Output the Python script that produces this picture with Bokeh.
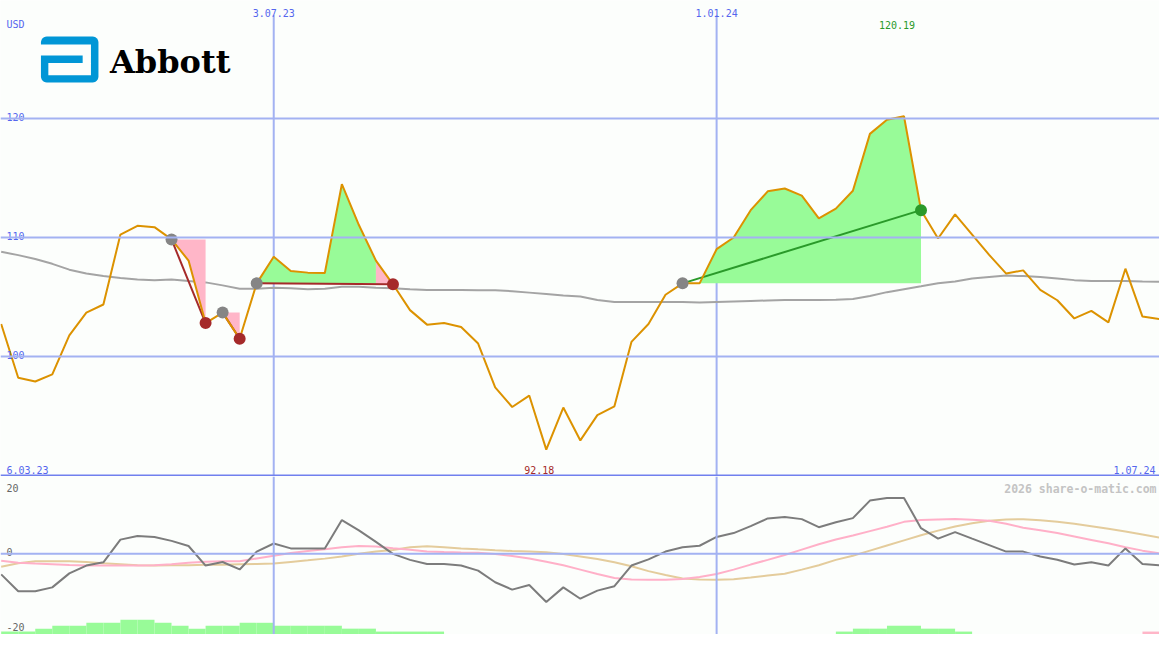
from bokeh.plotting import figure
from bokeh.models import Span, Range1d
from bokeh.layouts import column
from bokeh.core.properties import value
from bokeh.embed import file_html
from bokeh.resources import INLINE

# ---------------- data ----------------
weeks = list(range(1, 70))  # week index, week 0 = 6.03.23
price = [102.73, 98.22, 97.9, 98.5, 101.78, 103.69, 104.37, 110.25, 110.98, 110.87,
         109.84, 108.06, 102.81, 103.69, 101.5, 106.15, 108.39, 107.19, 107.05, 107.02,
         114.48, 111.05, 108.06, 106.07, 103.9, 102.68, 102.81, 102.48, 101.09, 97.4,
         95.76, 96.72, 92.18, 95.71, 92.95, 95.08, 95.82, 101.23, 102.73, 105.19,
         106.15, 106.15, 109.02, 110.0, 112.3, 113.88, 114.12, 113.52, 111.61, 112.43,
         113.93, 118.71, 119.9, 120.19, 112.3, 109.92, 111.94, 110.25, 108.54, 106.97,
         107.24, 105.6, 104.73, 103.2, 103.83, 102.87, 107.38, 103.36, 103.14]
ma = [108.8, 108.52, 108.2, 107.79, 107.3, 106.97, 106.76, 106.6, 106.48, 106.42,
      106.48, 106.35, 106.23, 105.98, 105.7, 105.7, 105.78, 105.74, 105.66, 105.7,
      105.86, 105.86, 105.78, 105.74, 105.66, 105.6, 105.6, 105.6, 105.57, 105.57,
      105.49, 105.37, 105.25, 105.12, 105.04, 104.75, 104.59, 104.59, 104.59, 104.59,
      104.59, 104.55, 104.59, 104.63, 104.67, 104.71, 104.75, 104.75, 104.75, 104.78,
      104.84, 105.08, 105.41, 105.66, 105.9, 106.15, 106.31, 106.56, 106.68, 106.8,
      106.76, 106.68, 106.56, 106.42, 106.35, 106.34, 106.34, 106.31, 106.29]
osc = [-5.19, -9.48, -9.48, -8.49, -4.94, -2.96, -2.15, 3.6, 4.52, 4.27,
       3.28, 1.98, -2.96, -2.07, -3.95, 0.57, 2.62, 1.38, 1.38, 1.38,
       8.54, 5.93, 3.04, 0.0, -1.53, -2.57, -2.57, -2.96, -4.25, -7.2,
       -9.06, -7.9, -12.2, -8.49, -11.36, -9.31, -8.2, -2.96, -1.4, 0.57,
       1.68, 2.05, 4.27, 5.26, 7.0, 8.96, 9.33, 8.79, 6.74, 7.98,
       9.04, 13.48, 14.15, 14.15, 6.49, 3.85, 5.5, 3.85, 2.22, 0.57,
       0.57, -0.67, -1.48, -2.72, -2.15, -2.96, 1.38, -2.57, -2.89]
sig_pink = [-1.73, -2.27, -2.47, -2.64, -2.84, -2.94, -2.96, -2.96, -2.96, -2.89,
            -2.64, -2.27, -1.98, -1.9, -1.9, -1.16, -0.49, 0.2, 0.69, 1.19,
            1.68, 1.98, 1.85, 1.43, 1.06, 0.57, 0.44, 0.32, 0.25, -0.05,
            -0.54, -1.16, -2.02, -2.89, -4.0, -5.11, -6.1, -6.47, -6.59, -6.54,
            -6.35, -5.85, -5.11, -4.0, -2.72, -1.53, -0.3, 1.06, 2.42, 3.65,
            4.64, 5.75, 6.86, 8.1, 8.59, 8.72, 8.79, 8.64, 8.35, 7.6,
            6.62, 6.0, 5.26, 4.4, 3.53, 2.67, 1.68, 0.81, 0.15]
sig_tan = [-3.26, -2.4, -1.9, -1.9, -1.9, -2.07, -2.4, -2.64, -2.89, -2.96,
           -2.91, -2.86, -2.79, -2.74, -2.64, -2.57, -2.47, -2.05, -1.65, -1.21,
           -0.67, 0.0, 0.57, 0.96, 1.68, 1.95, 1.68, 1.38, 1.14, 0.91,
           0.72, 0.57, 0.4, -0.05, -0.67, -1.28, -2.15, -3.14, -4.37, -5.36,
           -6.22, -6.47, -6.59, -6.42, -5.98, -5.48, -5.04, -4.0, -2.89, -1.53,
           -0.49, 0.81, 2.12, 3.41, 4.69, 5.88, 6.91, 7.73, 8.4, 8.67,
           8.77, 8.52, 8.15, 7.6, 6.99, 6.37, 5.68, 4.89, 4.1]
bars = [1, 1, 2, 3, 3, 4, 4, 5, 5, 4, 3, 2, 3, 3, 4, 4, 3, 3, 3, 3, 2, 2, 1, 1, 1, 1] \
       + [0] * 23 + [1, 2, 2, 3, 3, 2, 2, 1] + [0] * 10 + [-1, 0]
entries = [11, 14, 16, 41]
exits = [13, 15, 24, 55]
date_ticks = [17, 43]
date_tick_labels = ["3.07.23", "1.01.24"]
start_label = "6.03.23"
end_label = "1.07.24"
price_ticks = [100, 110, 120]
osc_ticks = [20, 0, -20]
currency = "USD"
brand = "Abbott"
credit = "2026 share-o-matic.com"

# ---------------- styles ----------------
BG = "#fcfefc"
GRID = "#a3b2f2"
SEP = "#7080ee"
LBL = "#5566ee"
ORANGE = "#dc9200"
GREEN_F = "#98fb98"
PINK_F = "#ffb6c8"
RED = "#a52a2a"
GREEN = "#2a9a2a"
MONO = value("DejaVu Sans Mono")

W = 1159
H1 = 476
H2 = 158
X0, X1 = 0.96, 69.0


def rx(px):  # reference pixel -> week
    return X0 + px / 1175.0 * (X1 - X0)


def ry(py):  # reference pixel -> price (main panel)
    return 120 - (py - 121) / 12.2


def ry2(py):  # reference pixel -> oscillator (lower panel)
    return (567.3 - py) / 4.05


Y0, Y1 = ry(488), ry(0)
L0, L1 = ry2(650), ry2(488)

pr = dict(zip(weeks, price))

# ---------------- main panel ----------------
p = figure(width=W, height=H1, x_range=Range1d(X0, X1), y_range=Range1d(Y0, Y1),
           output_backend="svg", toolbar_location=None, min_border=0,
           x_axis_location=None, y_axis_location=None,
           background_fill_color=BG, border_fill_color=BG, outline_line_color=None)
p.grid.visible = False

for v in price_ticks:
    p.add_layout(Span(location=v, dimension="width", line_color=GRID, line_width=2))
p.segment(x0=date_ticks, y0=[Y0] * len(date_ticks), x1=date_ticks,
          y1=[ry(15)] * len(date_ticks), line_color=GRID, line_width=2)
p.add_layout(Span(location=ry(487), dimension="width", line_color=SEP, line_width=2))

# moving average
p.line(weeks, ma, line_color="#a4a4a4", line_width=2)

# trade fills (runs of equal colour merged into one polygon)
fx, fy, fc = [], [], []
for e, x in zip(entries, exits):
    lvl = pr[e]
    cols = [GREEN_F if pr[i + 1] > lvl else PINK_F for i in range(e, x)]
    start = e
    for k in range(len(cols)):
        last = (k == len(cols) - 1) or (cols[k + 1] != cols[k])
        if last:
            end = e + k + 1
            pts = list(range(start, end + 1))
            fx.append([start] + pts + [end])
            fy.append([lvl] + [pr[i] for i in pts] + [lvl])
            fc.append(cols[k])
            start = end
p.patches(xs=fx, ys=fy, fill_color=fc, line_color=None)

# trade connection lines
tcol = [GREEN if pr[x] > pr[e] else RED for e, x in zip(entries, exits)]
p.segment(x0=entries, y0=[pr[e] for e in entries], x1=exits, y1=[pr[x] for x in exits],
          line_color=tcol, line_width=2)

# price line
p.line(weeks, price, line_color=ORANGE, line_width=2)

# markers
p.scatter(entries, [pr[e] for e in entries], marker="circle", size=12,
          fill_color="#858585", line_color=None)
p.scatter(exits, [pr[x] for x in exits], marker="circle", size=12,
          fill_color=tcol, line_color=None)

# labels
p.text(x=[rx(6)] * len(price_ticks), y=price_ticks, text=[str(v) for v in price_ticks],
       text_font=MONO, text_font_size=value("10px"), text_color=LBL,
       text_baseline="alphabetic", text_align="left", y_offset=-2)
p.text(x=[rx(6)], y=[ry(25)], text=[currency], text_font=MONO, text_font_size=value("10px"),
       text_color=LBL, text_baseline="alphabetic", text_align="left")
p.text(x=date_ticks, y=[ry(13)] * len(date_ticks), text=date_tick_labels, text_font=MONO,
       text_font_size=value("10px"), text_color=LBL, text_baseline="alphabetic",
       text_align="center")
p.text(x=[rx(6)], y=[ry(481)], text=[start_label], text_font=MONO,
       text_font_size=value("10px"), text_color=LBL, text_baseline="alphabetic",
       text_align="left")
p.text(x=[rx(1171)], y=[ry(481)], text=[end_label], text_font=MONO,
       text_font_size=value("10px"), text_color=LBL, text_baseline="alphabetic",
       text_align="right")
imax = max(range(len(price)), key=lambda i: price[i])
imin = min(range(len(price)), key=lambda i: price[i])
p.text(x=[weeks[imax]], y=[ry(25)], text=[f"{price[imax]:.2f}"], text_font=MONO,
       text_font_size=value("10px"), text_color=GREEN, text_baseline="alphabetic",
       text_align="center", x_offset=-7)
p.text(x=[weeks[imin]], y=[ry(481)], text=[f"{price[imin]:.2f}"], text_font=MONO,
       text_font_size=value("10px"), text_color=RED, text_baseline="alphabetic",
       text_align="center", x_offset=-7)


# logo
def rrect(x0, y0, x1, y1, r, n=6):
    import math
    xs, ys = [], []
    corners = [(x1 - r, y0 + r, -90, 0), (x1 - r, y1 - r, 0, 90),
               (x0 + r, y1 - r, 90, 180), (x0 + r, y0 + r, 180, 270)]
    for cx, cy, a0, a1 in corners:
        for k in range(n + 1):
            a = math.radians(a0 + (a1 - a0) * k / n)
            xs.append(rx(cx + r * math.cos(a)))
            ys.append(ry(cy + r * math.sin(a)))
    return xs, ys


LOGO = "#0096d6"
ox, oy = rrect(41, 37, 99.3, 84, 6)
p.patch(ox, oy, fill_color=LOGO, line_color=None)
wx = [[rx(40), rx(40), rx(91.7), rx(91.7)],
      [rx(83.3), rx(83.3), rx(91.7), rx(91.7)],
      [rx(48.5), rx(48.5), rx(91.7), rx(91.7)]]
wy = [[ry(45), ry(56.5), ry(56.5), ry(45)],
      [ry(56), ry(65), ry(65), ry(56)],
      [ry(64), ry(76.7), ry(76.7), ry(64)]]
p.patches(xs=wx, ys=wy, fill_color=BG, line_color=None)
p.text(x=[rx(111)], y=[ry(63.5)], text=[brand], text_font=value("DejaVu Serif"),
       text_font_style="bold", text_font_size=value("32px"), text_color="#000000",
       text_baseline="alphabetic", text_align="left")

# ---------------- lower panel ----------------
q = figure(width=W, height=H2, x_range=p.x_range, y_range=Range1d(L0, L1),
           output_backend="svg", toolbar_location=None, min_border=0,
           x_axis_location=None, y_axis_location=None,
           background_fill_color=BG, border_fill_color=BG, outline_line_color=None)
q.grid.visible = False
q.extra_y_ranges = {"lvl": Range1d(0, 162 / 3.0)}

bl = [w for w, b in zip(weeks, bars) if b != 0]
bt = [abs(b) for b in bars if b != 0]
bc = [GREEN_F if b > 0 else PINK_F for b in bars if b != 0]
q.quad(left=bl, right=[w + 1 for w in bl], bottom=[0] * len(bl), top=bt,
       fill_color=bc, line_color=None, y_range_name="lvl")

q.add_layout(Span(location=0, dimension="width", line_color=GRID, line_width=2))
for d in date_ticks:
    q.add_layout(Span(location=d, dimension="height", line_color=GRID, line_width=2))

q.line(weeks, sig_tan, line_color="#e4cc9c", line_width=2)
q.line(weeks, sig_pink, line_color="#ffb0c8", line_width=2)
q.line(weeks, osc, line_color="#7c7c7c", line_width=2)

q.text(x=[rx(6)] * 3, y=[ry2(500), ry2(565.5), ry2(642)], text=[str(v) for v in osc_ticks],
       text_font=MONO, text_font_size=value("10px"), text_color="#666666",
       text_baseline="alphabetic", text_align="left")
q.text(x=[rx(1172)], y=[ry2(501)], text=[credit], text_font=MONO,
       text_font_style="bold", text_font_size=value("11.5px"), text_color="#c4c4c4",
       text_baseline="alphabetic", text_align="right")

layout = column(p, q, spacing=0)
open("out.html", "w").write(file_html(layout, INLINE))
